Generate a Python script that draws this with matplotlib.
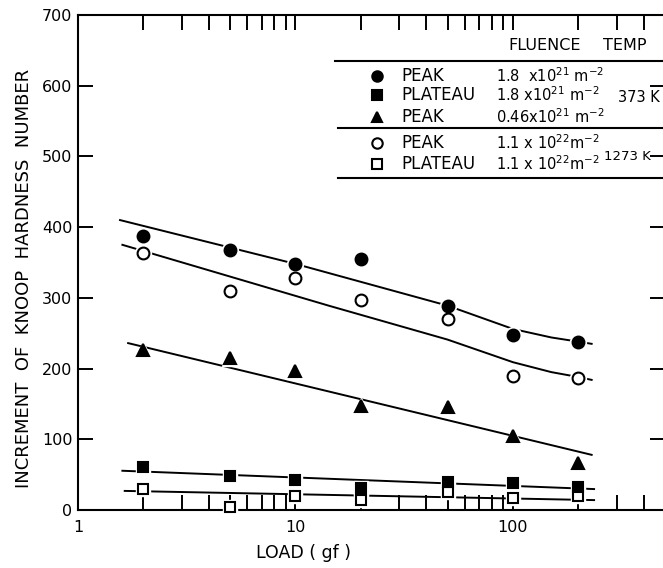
import matplotlib.pyplot as plt
import numpy as np

# measured points (load in gf, hardness increment)
loads = [2, 5, 10, 20, 50, 100, 200]
peak_18e21 = [387, 368, 348, 355, 289, 247, 238]
plateau_18e21 = [61, 48, 42, 31, 39, 38, 32]
peak_046e21 = [226, 215, 197, 147, 146, 105, 66]
peak_11e22 = [363, 310, 328, 297, 270, 190, 186]
plateau_11e22 = [30, 4, 20, 14, 25, 17, 20]

# hand drawn fit curves
fit_peak_18_x = [1.56, 10, 50, 100, 150, 200, 230]
fit_peak_18_y = [410, 348, 289, 256, 244, 238, 235]
fit_peak_11_x = [1.6, 14.2, 50, 100, 150, 200, 230]
fit_peak_11_y = [375, 289, 241, 209, 195, 188, 184]
fit_peak_046_x = [1.7, 230]
fit_peak_046_y = [236, 78]
fit_plat_18_x = [1.6, 236]
fit_plat_18_y = [55.5, 29.6]
fit_plat_11_x = [1.64, 236]
fit_plat_11_y = [27, 14]

W, H = 663, 568
fig = plt.figure(figsize=(W / 100, H / 100), dpi=100)
ax = fig.add_axes([78 / W, 1 - 510 / H, 587 / W, 495 / H])

def fx(x):
    return x / W

def fy(y):
    return 1 - y / H

lw = 1.4
ax.plot(fit_peak_18_x, fit_peak_18_y, 'k-', lw=lw, zorder=2)
ax.plot(fit_peak_11_x, fit_peak_11_y, 'k-', lw=lw, zorder=2)
ax.plot(fit_peak_046_x, fit_peak_046_y, 'k-', lw=lw, zorder=2)
ax.plot(fit_plat_18_x, fit_plat_18_y, 'k-', lw=lw, zorder=2)
ax.plot(fit_plat_11_x, fit_plat_11_y, 'k-', lw=lw, zorder=2)

series = [
    (peak_18e21, 'o', 'k', 8.5),
    (peak_11e22, 'o', 'w', 8.5),
    (peak_046e21, '^', 'k', 9),
    (plateau_11e22, 's', 'w', 7.5),
    (plateau_18e21, 's', 'k', 7.5),
]
for vals, m, fc, ms in series:
    # white halo so the fit line breaks around each marker
    ax.plot(loads, vals, m, ms=ms + 3, mfc='w', mec='w', ls='none', zorder=3, clip_on=False)
    ax.plot(loads, vals, m, ms=ms, mfc=fc, mec='k', mew=1.5, ls='none', zorder=4, clip_on=False)

ax.set_xscale('log')
ax.set_xlim(1, 500)
ax.set_ylim(0, 700)
ax.set_yticks(np.arange(0, 701, 100))
ax.set_xticks([1, 10, 100])
ax.set_xticklabels(['1', '10', '100'])
ax.xaxis.set_minor_formatter(plt.NullFormatter())
ax.tick_params(which='both', direction='in', top=True, right=True,
               length=11, width=1.4, labelsize=11.5)
ax.tick_params(axis='x', pad=7)
ax.tick_params(axis='y', pad=4)
for s in ax.spines.values():
    s.set_linewidth(1.5)

fig.text(fx(24), fy(278), 'INCREMENT  OF  KNOOP  HARDNESS  NUMBER', rotation=90,
         ha='center', va='center', fontsize=13)
fig.text(fx(303), fy(553), 'LOAD ( gf )', ha='center', va='center', fontsize=12.5)

# legend table
fs = 10.5
fig.text(fx(508), fy(45), 'FLUENCE', ha='left', va='center', fontsize=11.5)
fig.text(fx(603), fy(45), 'TEMP', ha='left', va='center', fontsize=11.5)
for yl, x0 in [(61, 335), (128, 338), (178, 338)]:
    fig.add_artist(plt.Line2D([fx(x0), 1], [fy(yl), fy(yl)], color='k', lw=1.5))

rows = [
    (76, 'o', 'k', 'PEAK', r'1.8  x10$^{21}$ m$^{-2}$'),
    (95, 's', 'k', 'PLATEAU', r'1.8 x10$^{21}$ m$^{-2}$'),
    (117, '^', 'k', 'PEAK', r'0.46x10$^{21}$ m$^{-2}$'),
    (143, 'o', 'w', 'PEAK', r'1.1 x 10$^{22}$m$^{-2}$'),
    (164, 's', 'w', 'PLATEAU', r'1.1 x 10$^{22}$m$^{-2}$'),
]
for yr, m, fc, name, flu in rows:
    fig.add_artist(plt.Line2D([fx(377)], [fy(yr)], marker=m, ms=7.5, mfc=fc, mec='k',
                              mew=1.5, ls='none'))
    fig.text(fx(401), fy(yr), name, ha='left', va='center', fontsize=12)
    fig.text(fx(496), fy(yr), flu, ha='left', va='center', fontsize=fs)
fig.text(fx(660), fy(97), '373 K', ha='right', va='center', fontsize=10.5)
fig.text(fx(651), fy(157), '1273 K', ha='right', va='center', fontsize=9.5)

fig.savefig('out.png', dpi=100)
